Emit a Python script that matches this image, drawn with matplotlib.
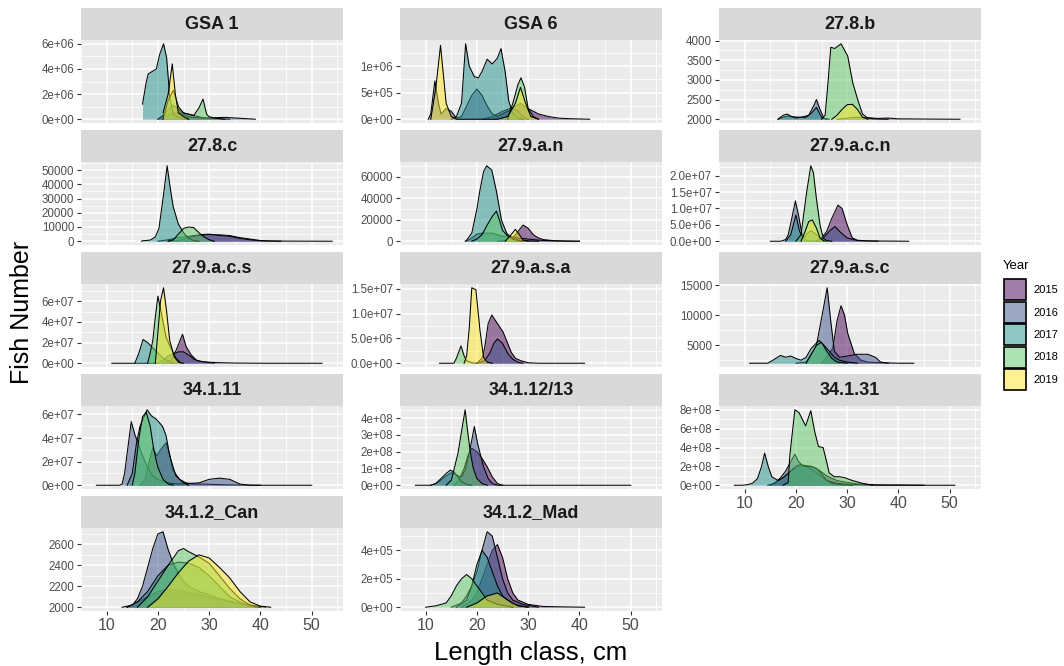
import matplotlib
matplotlib.use('Agg')
import matplotlib.pyplot as plt
from matplotlib.patches import Rectangle

plt.rcParams['font.family'] = ['Liberation Sans', 'DejaVu Sans']

YEARS = ['2015', '2016', '2017', '2018', '2019']
COLORS = ['#440154', '#3B528B', '#21908C', '#5DC863', '#FDE725']

# length class (cm) -> fish number, per area and year
GSA1 = {
    '2015': ([20, 21, 23, 25, 27, 29, 31, 34], [0, 0.3e6, 0.5e6, 0.5e6, 0.3e6, 0.1e6, 0.05e6, 0]),
    '2016': ([20, 21, 22, 23, 24, 25, 26, 28, 30, 33, 35, 37, 39],
             [0, 0.3e6, 0.8e6, 1.1e6, 0.8e6, 0.4e6, 0.2e6, 0.1e6, 0.1e6, 0.15e6, 0.1e6, 0.05e6, 0]),
    '2017': ([17, 17.7, 18.1, 19.7, 20.3, 21.1, 21.7, 22.3, 23, 24, 25, 26],
             [1.2e6, 2.9e6, 3.6e6, 4.0e6, 5.1e6, 6.0e6, 4.9e6, 1.8e6, 0.4e6, 0.15e6, 0.05e6, 0]),
    '2018': ([21, 22, 23, 24, 25, 26, 27, 28, 28.8, 29.5, 30, 31, 33],
             [0, 1.5e6, 2.3e6, 1.0e6, 0.5e6, 0.4e6, 0.3e6, 0.9e6, 1.6e6, 0.4e6, 0.2e6, 0.1e6, 0]),
    '2019': ([21, 22, 22.8, 23.4, 24, 25, 26], [0.5e6, 2.0e6, 4.4e6, 2.0e6, 0.5e6, 0.2e6, 0]),
}
GSA6 = {
    '2015': ([21, 23, 25, 27, 28.5, 30, 32, 34, 36, 38, 42], [0, 0.05e6, 0.15e6, 0.22e6, 0.3e6, 0.2e6, 0.1e6, 0.05e6, 0.02e6, 0.01e6, 0]),
    '2016': ([10.5, 11, 11.8, 12.5, 13, 14, 15, 16, 17, 18, 19, 20, 21, 22, 23, 24, 25, 26, 27, 28, 29, 30],
             [0, 0.1e6, 0.72e6, 0.3e6, 0.1e6, 0.2e6, 0.15e6, 0.02e6, 0.05e6, 0.25e6, 0.45e6, 0.57e6, 0.45e6,
              0.25e6, 0.1e6, 0.05e6, 0.1e6, 0.15e6, 0.2e6, 0.15e6, 0.05e6, 0]),
    '2017': ([15, 16, 17, 17.8, 18.5, 19.5, 20.3, 21, 22, 23, 24, 24.7, 25.5, 26.2, 27, 28, 29],
             [0, 0.05e6, 0.3e6, 1.42e6, 1.0e6, 0.8e6, 0.78e6, 0.9e6, 1.13e6, 1.04e6, 1.15e6, 1.33e6, 0.9e6,
              0.35e6, 0.1e6, 0.02e6, 0]),
    '2018': ([26, 27, 28, 28.6, 29.3, 30, 31, 32], [0, 0.3e6, 0.65e6, 0.78e6, 0.6e6, 0.2e6, 0.05e6, 0]),
    '2019': ([11, 12, 12.9, 13.5, 14, 15, 16, 24, 26, 27.5, 28.5, 29.5, 30.5, 32],
             [0, 0.6e6, 1.39e6, 0.8e6, 0.3e6, 0.05e6, 0, 0, 0.05e6, 0.3e6, 0.6e6, 0.3e6, 0.05e6, 0]),
}
A278B = {
    '2015': ([28, 30, 32, 34, 36, 38, 40, 45, 52], [2000, 2030, 2050, 2040, 2020, 2030, 2010, 2005, 2000]),
    '2016': ([16.5, 17.5, 18.5, 19.5, 21, 22.5, 23.5, 24, 24.7, 25.5, 26.5],
             [2000, 2050, 2080, 2060, 2050, 2100, 2350, 2500, 2250, 2020, 2000]),
    '2017': ([16.5, 17.5, 18.3, 19, 20, 21, 22, 23, 24, 25, 26],
             [2000, 2100, 2130, 2080, 2030, 2050, 2050, 2150, 2300, 2050, 2000]),
    '2018': ([25, 25.7, 26.3, 26.8, 27.6, 28.8, 30.1, 31.1, 32.1, 33, 34, 35, 38],
             [2000, 2100, 3000, 3830, 3800, 3920, 3610, 2920, 2480, 2130, 2030, 2010, 2000]),
    '2019': ([27, 28, 29, 30, 31, 32, 33, 34], [2000, 2100, 2250, 2370, 2380, 2250, 2050, 2000]),
}
A278C = {
    '2015': ([22, 24, 26, 28, 30, 32, 34, 36, 38, 40, 42, 45, 54], [0, 500, 2500, 4000, 4500, 4500, 4000, 2500, 1500, 500, 200, 100, 0]),
    '2016': ([20, 22, 24, 26, 28, 30, 32, 34, 36, 38, 40, 42, 44], [0, 1000, 2500, 3500, 4500, 5000, 4000, 3500, 2000, 1000, 300, 100, 0]),
    '2017': ([16.8, 17, 18.5, 19.5, 20.2, 21, 21.8, 22.5, 23, 24, 25, 26, 27, 28],
             [0, 300, 800, 3000, 9000, 30000, 53000, 35000, 24000, 12000, 6000, 2000, 500, 0]),
    '2018': ([22, 23, 24, 25, 26, 27, 28, 29, 30, 31], [0, 1000, 5000, 9000, 10000, 9500, 6000, 3000, 1000, 0]),
}
A279AN = {
    '2015': ([24, 26, 27, 28, 29, 30, 31, 32, 33, 35, 38, 40], [0, 1000, 3000, 9000, 15000, 12000, 6000, 3000, 1500, 500, 100, 0]),
    '2016': ([18, 19, 20, 21, 22, 23, 24, 25, 26, 27, 28, 30, 32, 34, 36, 40],
             [0, 3000, 6500, 7500, 7500, 7500, 6000, 4500, 5000, 4000, 3000, 2000, 1000, 500, 200, 0]),
    '2017': ([17.7, 18, 19, 20, 20.5, 21.3, 21.9, 22.9, 23.8, 24.8, 25.8, 26.7, 28, 30, 32],
             [0, 1000, 7500, 30000, 45000, 64500, 70000, 66000, 46500, 19500, 7500, 3000, 1000, 300, 0]),
    '2018': ([19, 20, 21, 22, 23, 23.8, 24.5, 25, 26, 27, 28, 29], [0, 2000, 6000, 15000, 23000, 28000, 18000, 10000, 5000, 2000, 500, 0]),
    '2019': ([25.5, 26.5, 27.5, 28.3, 29, 30], [0, 5000, 11000, 6000, 1000, 0]),
}
A279ACN = {
    '2015': ([24, 25, 26, 27, 28.2, 29, 30, 31, 32, 34, 42], [0, 1e6, 3e6, 7e6, 11e6, 10e6, 5e6, 1e6, 0.3e6, 0.1e6, 0]),
    '2016': ([15, 17, 18, 18.5, 19.2, 19.9, 20.5, 21.2, 22, 23, 25, 26.5, 27.6, 28.5, 30, 32, 36],
             [0, 0, 0.5e6, 2e6, 7e6, 12.3e6, 8e6, 2e6, 0.3e6, 0, 0.5e6, 3e6, 4.5e6, 3e6, 1e6, 0.2e6, 0]),
    '2017': ([18, 19, 20, 20.7, 21.5, 22.3, 23, 24, 25, 26], [0, 2e6, 8e6, 3e6, 1e6, 2.5e6, 3.2e6, 2e6, 0.5e6, 0]),
    '2018': ([20, 21, 21.5, 22.1, 22.9, 23.4, 24, 24.7, 25.3, 26, 27], [0, 2e6, 8e6, 15e6, 23e6, 21e6, 13e6, 5e6, 1e6, 0.2e6, 0]),
    '2019': ([21, 21.8, 22.5, 23.2, 24, 24.7, 25.5], [0, 3e6, 6e6, 6.5e6, 4e6, 1e6, 0]),
}
A279ACS = {
    '2015': ([21, 22.5, 23.5, 24.8, 25.5, 26.5, 27.5, 29, 31], [0, 0.3e7, 1.2e7, 2.8e7, 1.6e7, 0.8e7, 0.3e7, 0.1e7, 0]),
    '2016': ([11, 20, 21, 22, 23, 24, 25, 26, 27, 28, 30, 32, 35, 40, 52],
             [0, 0, 0.3e7, 0.7e7, 0.9e7, 1.1e7, 1.1e7, 0.8e7, 0.4e7, 0.2e7, 0.1e7, 0.05e7, 0.02e7, 0, 0]),
    '2017': ([15.5, 16.3, 17.1, 18, 19, 20, 21, 22, 23], [0, 1e7, 2.3e7, 2.0e7, 1.5e7, 1e7, 0.5e7, 0.2e7, 0]),
    '2018': ([18, 18.5, 19, 19.5, 20, 20.6, 21.6, 22.5, 23.5, 24.5], [0, 1e7, 2.2e7, 4.5e7, 6.5e7, 5e7, 2.5e7, 1.5e7, 0.5e7, 0]),
    '2019': ([19.5, 20, 20.5, 21.1, 21.7, 22.3, 23.2, 24, 25], [0, 3e7, 6e7, 7.3e7, 5e7, 2.2e7, 0.6e7, 0.1e7, 0]),
}
A279ASA = {
    '2015': ([20, 21, 21.5, 22.2, 22.9, 24, 25.1, 26, 26.7, 27.5, 28.6, 30, 32, 41],
             [0, 1e6, 3e6, 8e6, 9.7e6, 8e6, 6.3e6, 4e6, 2.2e6, 1e6, 0.5e6, 0.1e6, 0, 0]),
    '2016': ([20, 21.5, 22.5, 23.3, 24, 25, 26, 27, 28, 29], [0, 0.5e6, 2e6, 4e6, 4.9e6, 4e6, 2e6, 0.8e6, 0.2e6, 0]),
    '2018': ([12.7, 15.5, 16, 16.9, 17.5, 18, 19, 20], [0, 0, 1e6, 3.5e6, 1.5e6, 0.5e6, 0.1e6, 0]),
    '2019': ([17.5, 18, 18.5, 19, 19.8, 20.6, 21.3, 22, 23], [0, 1.5e6, 7e6, 15.2e6, 14.8e6, 6.6e6, 1.2e6, 0.2e6, 0]),
}
A279ASC = {
    '2015': ([25, 26, 27.2, 28, 28.8, 29.5, 30.1, 31.4, 32.7, 34, 36, 40, 43],
             [2000, 3000, 4500, 9000, 11600, 10000, 7000, 3600, 2500, 2200, 2100, 2000, 2000]),
    '2016': ([20, 22, 23, 24, 25, 26.1, 26.8, 27.5, 28.5, 30, 32, 34, 35.5, 36.5, 38],
             [2000, 2200, 3500, 5000, 9500, 14600, 9000, 4000, 3000, 3200, 3500, 3500, 3000, 2200, 2000]),
    '2017': ([11, 14.5, 15.5, 17, 18, 19, 20, 21, 22, 23, 24.5, 25.5, 26.5, 27.5, 28.5, 30, 32],
             [2000, 2000, 2500, 3300, 3000, 3200, 2800, 2500, 3000, 4500, 5800, 5000, 4000, 3000, 2500, 2200, 2000]),
    '2018': ([22, 23, 24, 25, 26, 27, 28, 30], [2000, 3500, 5000, 5500, 4000, 2800, 2200, 2000]),
}
A34111 = {
    '2015': ([16.5, 17.5, 18.3, 19, 19.8, 20.5, 21.6, 22.3, 22.9, 24.2, 25.5, 27, 29, 32, 35, 40],
             [0, 0.5e7, 2e7, 3.2e7, 2.5e7, 3e7, 3.6e7, 2.6e7, 1.3e7, 0.5e7, 0.2e7, 0.1e7, 0.1e7, 0.05e7, 0.02e7, 0]),
    '2016': ([8, 12.5, 13, 13.5, 14, 14.8, 15.5, 16.2, 17, 18, 19, 20, 21, 22, 24, 26, 28, 30, 32, 34, 36, 38, 50],
             [0, 0, 0.1e7, 1e7, 2.7e7, 5.4e7, 4.3e7, 3.5e7, 2.5e7, 1.5e7, 0.8e7, 0.5e7, 0.3e7, 0.2e7, 0.1e7,
              0.15e7, 0.2e7, 0.5e7, 0.6e7, 0.5e7, 0.1e7, 0, 0]),
    '2017': ([14, 15, 15.8, 16.5, 17.1, 17.9, 18.7, 19.7, 20.9, 21.6, 22.3, 23.5, 25, 26],
             [0, 1e7, 3.5e7, 5e7, 5.6e7, 6.4e7, 5.9e7, 5.6e7, 5e7, 4.2e7, 2.5e7, 0.8e7, 0.2e7, 0]),
    '2018': ([15, 15.5, 16.3, 17, 17.7, 18.5, 19.2, 20, 21, 22, 23], [0, 1e7, 4e7, 5.8e7, 6.2e7, 5e7, 3e7, 1.5e7, 0.5e7, 0.1e7, 0]),
}
A341123 = {
    '2015': ([15.5, 16.5, 17.5, 18.3, 19, 20, 21, 22, 23, 24, 25], [0, 0.3e8, 1e8, 1.8e8, 2.2e8, 2e8, 1.6e8, 1.1e8, 0.5e8, 0.1e8, 0]),
    '2016': ([8, 11, 12, 13, 14, 15, 16, 17, 17.7, 18.7, 19.5, 20.2, 20.7, 21.3, 22.2, 23, 24, 50],
             [0, 0, 0.1e8, 0.3e8, 0.55e8, 0.75e8, 0.6e8, 0.5e8, 0.9e8, 2.2e8, 3.5e8, 2.4e8, 1.8e8, 1.1e8, 0.4e8, 0.1e8, 0, 0]),
    '2017': ([11, 12, 13, 14, 14.8, 15.5, 16.3, 17, 18, 19], [0, 0.1e8, 0.4e8, 0.7e8, 0.9e8, 0.8e8, 0.5e8, 0.2e8, 0.05e8, 0]),
    '2018': ([14, 15, 15.5, 16.3, 17, 17.7, 18.2, 18.7, 19.3, 20, 21, 22], [0, 0.3e8, 0.9e8, 1.9e8, 3.2e8, 4.5e8, 3.2e8, 2e8, 1e8, 0.4e8, 0.1e8, 0]),
}
A34131 = {
    '2015': ([14.5, 16, 17.5, 19, 20.5, 21.5, 23, 24.5, 26, 28, 30, 32, 35, 38, 40, 43, 45],
             [0, 0.2e8, 0.8e8, 1.5e8, 1.9e8, 2.1e8, 2e8, 1.6e8, 1e8, 0.5e8, 0.3e8, 0.15e8, 0.05e8, 0.03e8, 0.03e8, 0.01e8, 0]),
    '2016': ([15, 16, 17, 18, 19, 19.8, 20.5, 21.5, 22.5, 23.5, 25, 26, 28, 30, 33, 36, 51],
             [0, 0.3e8, 0.8e8, 1.5e8, 2.5e8, 3.3e8, 2.5e8, 2e8, 1.9e8, 1.5e8, 0.9e8, 0.5e8, 0.2e8, 0.1e8, 0.05e8, 0, 0]),
    '2017': ([8, 9.5, 10.5, 11.5, 12.5, 13.3, 13.9, 14.6, 15.3, 16.5, 17.5, 19, 20, 21, 22, 23, 24, 25, 26, 27, 29, 31],
             [0, 0, 0.05e8, 0.2e8, 0.7e8, 2e8, 3.4e8, 2e8, 0.9e8, 0.5e8, 0.8e8, 1.5e8, 2e8, 2.2e8, 2e8, 2e8,
              1.8e8, 1.2e8, 0.5e8, 0.2e8, 0.05e8, 0]),
    '2018': ([17.5, 18.5, 18.8, 19.8, 20.6, 21.9, 22.9, 23.7, 24.4, 25.3, 25.9, 26.5, 27.5, 28.5, 29.5, 31, 33, 35],
             [0, 0.3e8, 3.1e8, 8e8, 7.7e8, 6.3e8, 7.9e8, 5.6e8, 4.1e8, 4e8, 2.7e8, 1.3e8, 0.9e8, 0.9e8, 0.8e8, 0.5e8, 0.2e8, 0]),
}
A3412CAN = {
    '2015': ([14, 16, 18, 20, 22, 24, 26, 28, 30, 32, 35, 38, 41], [2000, 2050, 2100, 2150, 2170, 2160, 2140, 2120, 2100, 2080, 2050, 2020, 2000]),
    '2016': ([13, 15, 16, 17, 18, 19, 20, 21, 22, 23, 24, 25, 26, 28, 30, 32, 35, 38, 40],
             [2000, 2020, 2080, 2200, 2380, 2560, 2700, 2720, 2550, 2420, 2320, 2250, 2200, 2150, 2120, 2080, 2040, 2010, 2000]),
    '2017': ([14, 16, 18, 20, 22, 24, 26, 28, 30, 32, 34, 36, 38, 40],
             [2000, 2050, 2150, 2300, 2400, 2430, 2420, 2380, 2300, 2200, 2100, 2050, 2010, 2000]),
    '2018': ([16, 18, 20, 22, 24, 25, 26, 28, 30, 32, 34, 36, 38, 40],
             [2000, 2100, 2250, 2400, 2540, 2560, 2530, 2480, 2420, 2300, 2180, 2080, 2020, 2000]),
    '2019': ([18, 20, 22, 24, 26, 28, 30, 32, 34, 36, 38, 40, 42],
             [2000, 2080, 2200, 2330, 2440, 2500, 2470, 2380, 2280, 2150, 2050, 2010, 2000]),
}
A3412MAD = {
    '2015': ([17, 19, 20, 21, 22, 23, 24, 25, 26, 27, 28, 30, 33, 41], [0, 0.5e5, 1e5, 2e5, 3e5, 4e5, 4.4e5, 3.5e5, 2e5, 1e5, 0.5e5, 0.2e5, 0.05e5, 0]),
    '2016': ([15, 17, 18, 19, 20, 21, 22, 23, 24, 25, 26, 27, 29, 32], [0, 0.3e5, 0.8e5, 1.5e5, 2.5e5, 4e5, 5.3e5, 5e5, 3.5e5, 2e5, 1e5, 0.5e5, 0.2e5, 0]),
    '2017': ([16, 18, 19, 20, 21, 22, 23, 24, 25, 27, 30], [0, 0.5e5, 1.5e5, 3e5, 4e5, 3.5e5, 2.5e5, 1.5e5, 0.8e5, 0.2e5, 0]),
    '2018': ([10, 12, 14, 15, 16, 17, 18, 19, 20, 21, 22, 24, 27], [0, 0.1e5, 0.3e5, 0.8e5, 1.5e5, 2e5, 2.3e5, 2e5, 1.5e5, 1e5, 0.5e5, 0.2e5, 0]),
    '2019': ([18, 20, 22, 24, 26, 28, 30], [0, 0.3e5, 0.8e5, 1e5, 0.5e5, 0.1e5, 0]),
}

AREAS = ['GSA 1', 'GSA 6', '27.8.b', '27.8.c', '27.9.a.n', '27.9.a.c.n', '27.9.a.c.s',
         '27.9.a.s.a', '27.9.a.s.c', '34.1.11', '34.1.12/13', '34.1.31', '34.1.2_Can', '34.1.2_Mad']
AREA_DATA = [GSA1, GSA6, A278B, A278C, A279AN, A279ACN, A279ACS,
             A279ASA, A279ASC, A34111, A341123, A34131, A3412CAN, A3412MAD]
BASELINES = [0, 0, 2000, 0, 0, 0, 0, 0, 2000, 0, 0, 0, 2000, 0]
Y_TICKS = [
    [0, 2e6, 4e6, 6e6], [0, 5e5, 1e6], [2000, 2500, 3000, 3500, 4000],
    [0, 10000, 20000, 30000, 40000, 50000], [0, 20000, 40000, 60000], [0, 5e6, 1e7, 1.5e7, 2e7],
    [0, 2e7, 4e7, 6e7], [0, 5e6, 1e7, 1.5e7], [5000, 10000, 15000],
    [0, 2e7, 4e7, 6e7], [0, 1e8, 2e8, 3e8, 4e8], [0, 2e8, 4e8, 6e8, 8e8],
    [2000, 2200, 2400, 2600], [0, 2e5, 4e5],
]
Y_LABELS = [
    ['0e+00', '2e+06', '4e+06', '6e+06'], ['0e+00', '5e+05', '1e+06'], ['2000', '2500', '3000', '3500', '4000'],
    ['0', '10000', '20000', '30000', '40000', '50000'], ['0', '20000', '40000', '60000'],
    ['0.0e+00', '5.0e+06', '1.0e+07', '1.5e+07', '2.0e+07'],
    ['0e+00', '2e+07', '4e+07', '6e+07'], ['0.0e+00', '5.0e+06', '1.0e+07', '1.5e+07'], ['5000', '10000', '15000'],
    ['0e+00', '2e+07', '4e+07', '6e+07'], ['0e+00', '1e+08', '2e+08', '3e+08', '4e+08'],
    ['0e+00', '2e+08', '4e+08', '6e+08', '8e+08'],
    ['2000', '2200', '2400', '2600'], ['0e+00', '2e+05', '4e+05'],
]
X_TICKS = [10, 20, 30, 40, 50]
X_AXIS_PANELS = [11, 12, 13]

W, H = 1064, 666
COL_X = [81, 400, 719]
ROW_TOP = [8, 130, 252, 374, 496]
PANEL_W, STRIP_H, PANEL_H = 262, 32, 83
XLIM = (5.6, 56.1)


def px_axes(fig, x, y, w, h):
    return fig.add_axes([x / W, 1 - (y + h) / H, w / W, h / H])


fig = plt.figure(figsize=(W / 100, H / 100), dpi=100)

for i, area in enumerate(AREAS):
    row, col = divmod(i, 3)
    x0, y0 = COL_X[col], ROW_TOP[row]

    strip = px_axes(fig, x0, y0, PANEL_W, STRIP_H)
    strip.set_facecolor('#D9D9D9')
    strip.set_xticks([])
    strip.set_yticks([])
    for s in strip.spines.values():
        s.set_visible(False)
    strip.text(0.5, 0.48, area, ha='center', va='center', fontsize=13,
               fontweight='bold', color='#1A1A1A', transform=strip.transAxes)

    ax = px_axes(fig, x0, y0 + STRIP_H, PANEL_W, PANEL_H)
    ax.set_facecolor('#EBEBEB')
    for s in ax.spines.values():
        s.set_visible(False)

    data = AREA_DATA[i]
    base = BASELINES[i]
    top = max(max(v) for _, v in data.values())
    pad = 0.05 * (top - base)
    ax.set_ylim(base - pad, top + pad)
    ax.set_xlim(*XLIM)

    for year, color in zip(YEARS, COLORS):
        if year not in data:
            continue
        lengths, numbers = data[year]
        ax.fill_between(lengths, base, numbers, color=color, alpha=0.5, lw=0, zorder=3)
        ax.plot(lengths, numbers, color='black', lw=0.75, zorder=3)

    yt = Y_TICKS[i]
    step = yt[1] - yt[0]
    lo, hi = ax.get_ylim()
    minor = [yt[0] - step / 2 + k * step for k in range(len(yt) + 2)]
    minor = [m for m in minor if lo < m < hi]
    ax.set_yticks(yt)
    ax.set_yticklabels(Y_LABELS[i])
    ax.set_yticks(minor, minor=True)
    ax.set_xticks(X_TICKS)
    ax.set_xticks([5, 15, 25, 35, 45, 55], minor=True)
    ax.grid(which='major', color='white', lw=1.1, zorder=1)
    ax.grid(which='minor', color='white', lw=0.55, zorder=1)
    ax.set_axisbelow(True)
    ax.tick_params(which='minor', length=0)
    ax.tick_params(axis='y', which='major', length=3, width=0.8, color='#333333',
                   labelsize=8.3, labelcolor='#4D4D4D', pad=2)
    if i in X_AXIS_PANELS:
        ax.tick_params(axis='x', which='major', length=3, width=0.8, color='#333333',
                       labelsize=11.5, labelcolor='#4D4D4D', pad=2)
    else:
        ax.tick_params(axis='x', which='major', length=0, labelbottom=False)

fig.text(531 / W, 1 - 653 / H, 'Length class, cm', ha='center', va='center', fontsize=18.5)
fig.text(22 / W, 1 - 312 / H, 'Fish Number', ha='center', va='center', fontsize=18, rotation=90)

# legend
fig.text(1003 / W, 1 - 266 / H, 'Year', ha='left', va='center', fontsize=9.5)
for k, (year, color) in enumerate(zip(YEARS, COLORS)):
    ky = 279 + k * 22.5
    fig.patches.append(Rectangle((1004 / W, 1 - (ky + 21) / H), 22 / W, 21 / H,
                                 transform=fig.transFigure, facecolor=color, alpha=0.5, lw=0))
    fig.patches.append(Rectangle((1004 / W, 1 - (ky + 21) / H), 22 / W, 21 / H,
                                 transform=fig.transFigure, facecolor='none', edgecolor='black', lw=1.2))
    fig.text(1033 / W, 1 - (ky + 11) / H, year, ha='left', va='center', fontsize=8)

fig.savefig('out.png', dpi=100)
